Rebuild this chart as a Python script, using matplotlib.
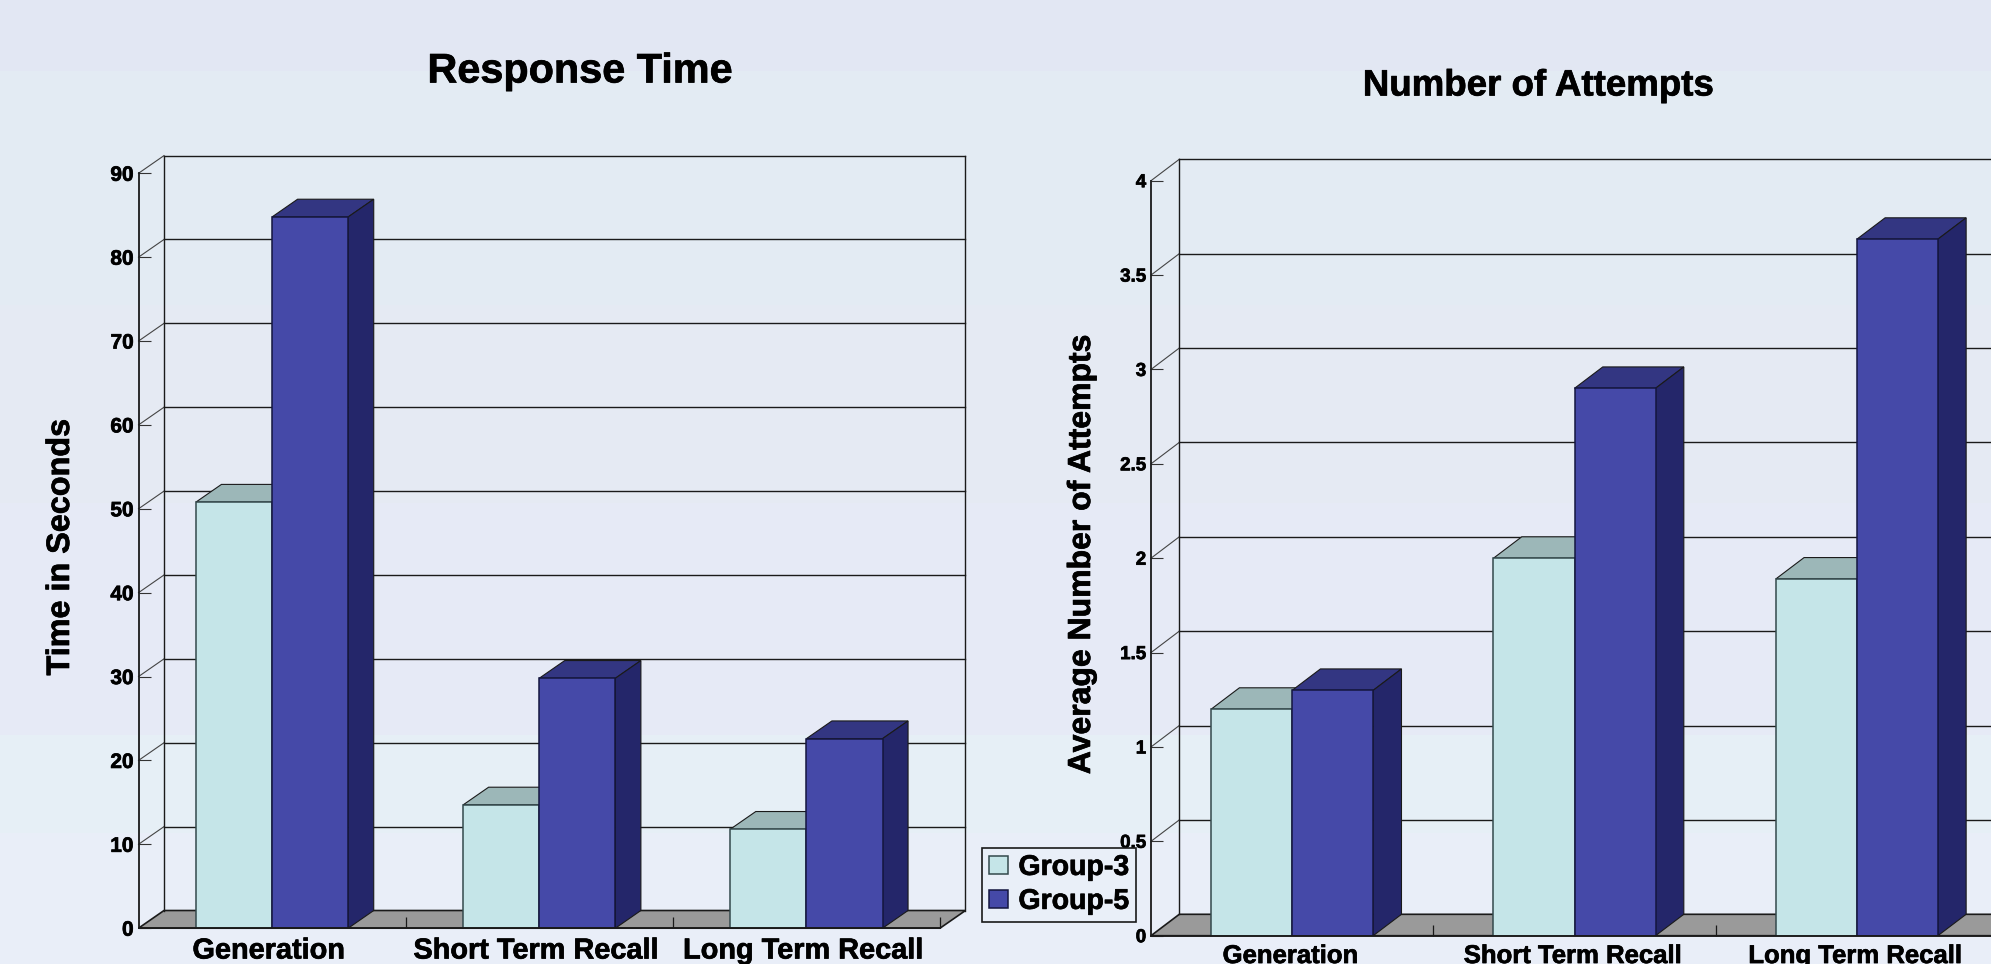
import matplotlib
matplotlib.use("Agg")
import matplotlib.pyplot as plt
import matplotlib.patheffects as pe
from matplotlib.text import Text
from matplotlib.transforms import ScaledTranslation
import numpy as np
from matplotlib.patches import Polygon

plt.rcParams['font.family'] = ['Liberation Sans', 'DejaVu Sans']
plt.rcParams['font.weight'] = 'bold'

W, H = 1991, 964

# data
categories = ["Generation", "Short Term Recall", "Long Term Recall"]
series_names = ["Group-3", "Group-5"]

time_group3 = [50.8, 14.7, 11.8]
time_group5 = [84.8, 29.8, 22.6]
time_ticks = [0, 10, 20, 30, 40, 50, 60, 70, 80, 90]
time_ticklabels = ["0", "10", "20", "30", "40", "50", "60", "70", "80", "90"]

attempts_group3 = [1.2, 2.0, 1.89]
attempts_group5 = [1.3, 2.9, 3.69]
attempts_ticks = [0, 0.5, 1, 1.5, 2, 2.5, 3, 3.5, 4]
attempts_ticklabels = ["0", "0.5", "1", "1.5", "2", "2.5", "3", "3.5", "4"]

# colours
light = "#c5e5e8"
light_top = "#9cb7b8"
dark = "#4549a8"
dark_top = "#333682"
dark_side = "#24266a"
floor = "#9a9a9a"
ink = "#1a1a1a"

# slide background is a banded gradient
band_edges = [0, 71, 305, 503, 735, 833, 964]
band_colors = [(226, 231, 243), (227, 235, 243), (229, 234, 243),
               (230, 234, 246), (230, 239, 246), (233, 238, 248)]


def px_axes(fig, x0, x1, y_top, y_bottom):
    return fig.add_axes([x0 / W, 1 - y_bottom / H, (x1 - x0) / W, (y_bottom - y_top) / H])


def draw_chart(ax, vals3, vals5, ticks, ticklabels, dx, dy, barw, tick_fs, cat_fs, cat_shift):
    ymax = ticks[-1]
    xmin, xmax = -0.5, 2.5
    ax.set_xlim(xmin, xmax)
    ax.set_ylim(0, ymax)
    ax.patch.set_visible(False)

    # back wall and floor
    ax.add_patch(Polygon([(xmin, 0), (xmax, 0), (xmax + dx, dy), (xmin + dx, dy)],
                         fc=floor, ec=ink, lw=1.2, clip_on=False, zorder=1))
    for t in ticks[1:]:
        ax.plot([xmin + dx, xmax + dx], [t + dy, t + dy], color=ink, lw=1, clip_on=False, zorder=1)
        ax.plot([xmin, xmin + dx], [t, t + dy], color="#444444", lw=0.8, clip_on=False, zorder=1)
    ax.plot([xmin + dx, xmin + dx], [dy, ymax + dy], color=ink, lw=1, clip_on=False, zorder=1)
    ax.plot([xmax + dx, xmax + dx], [dy, ymax + dy], color=ink, lw=1, clip_on=False, zorder=1)

    x = np.arange(len(categories))
    for xi, v in zip(x - barw / 2, vals3):
        l, r = xi - barw / 2, xi + barw / 2
        ax.add_patch(Polygon([(l, v), (r, v), (r + dx, v + dy), (l + dx, v + dy)],
                             fc=light_top, ec=ink, lw=0.8, clip_on=False, zorder=2))
    bars3 = ax.bar(x - barw / 2, vals3, barw, color=light, edgecolor="#33494c", lw=1.1, zorder=3,
                   label=series_names[0])
    for xi, v in zip(x + barw / 2, vals5):
        l, r = xi - barw / 2, xi + barw / 2
        ax.add_patch(Polygon([(l, v), (r, v), (r + dx, v + dy), (l + dx, v + dy)],
                             fc=dark_top, ec=ink, lw=0.8, clip_on=False, zorder=4))
        ax.add_patch(Polygon([(r, 0), (r + dx, dy), (r + dx, v + dy), (r, v)],
                             fc=dark_side, ec=ink, lw=0.8, clip_on=False, zorder=4))
    bars5 = ax.bar(x + barw / 2, vals5, barw, color=dark, edgecolor="#14163f", lw=1.1, zorder=5,
                   label=series_names[1])

    # axes
    for s in ["top", "right"]:
        ax.spines[s].set_visible(False)
    for s in ["left", "bottom"]:
        ax.spines[s].set_color(ink)
        ax.spines[s].set_linewidth(1.3)
        ax.spines[s].set_zorder(6)
    ax.set_yticks(ticks)
    ax.set_yticklabels(ticklabels, fontsize=tick_fs, fontweight='bold')
    ax.tick_params(axis='y', direction='in', length=8.5, width=0.8, pad=3.5, color="#333333")
    ax.set_xticks([0.5, 1.5, 2.5])
    ax.set_xticklabels([])
    ax.tick_params(axis='x', which='major', direction='in', length=8, width=0.9, color=ink)
    ax.set_xticks(x, minor=True)
    labels = ax.set_xticklabels(categories, minor=True, fontsize=cat_fs, fontweight='bold')
    ax.tick_params(axis='x', which='minor', length=0, pad=6)
    # the labels sit a little left of the bar groups
    for lab in labels:
        lab.set_transform(lab.get_transform() + ScaledTranslation(cat_shift / 100, 0, fig.dpi_scale_trans))
    return bars3, bars5


fig = plt.figure(figsize=(W / 100, H / 100), dpi=100)

bg = fig.add_axes([0, 0, 1, 1], zorder=-1)
rgb = np.zeros((H, 1, 3))
for i, c in enumerate(band_colors):
    rgb[band_edges[i]:band_edges[i + 1], 0, :] = np.array(c) / 255
bg.imshow(rgb, aspect='auto', extent=[0, 1, 0, 1], origin='upper', interpolation='nearest')
bg.axis('off')

ax1 = px_axes(fig, 138.5, 940, 173.3, 928.2)
b3, b5 = draw_chart(ax1, time_group3, time_group5, time_ticks, time_ticklabels,
                    25.5 / 267.2, 17.7 / 8.39, 0.285, 15, 20.8, -3.5)

ax2 = px_axes(fig, 1151, 1998, 180.7, 935.7)
draw_chart(ax2, attempts_group3, attempts_group5, attempts_ticks, attempts_ticklabels,
           28.3 / 282.5, 21.4 / 188.75, 0.287, 13.5, 18.5, -1.5)

fig.text(580 / W, 1 - 71.5 / H, "Response Time", ha='center', va='center', fontsize=29.8, fontweight='bold', color='black')
fig.text(1538 / W, 1 - 86 / H, "Number of Attempts", ha='center', va='center', fontsize=26.4, fontweight='bold', color='black')
fig.text(61 / W, 1 - 547 / H, "Time in Seconds", rotation=90, ha='center', va='center', fontsize=23.3, fontweight='bold', color='black')
fig.text(1082 / W, 1 - 554 / H, "Average Number of Attempts", rotation=90, ha='center', va='center', fontsize=23, fontweight='bold', color='black')

leg = fig.legend([b3, b5], series_names, loc='lower left',
                 bbox_to_anchor=(982 / W, 1 - 922 / H), borderaxespad=0,
                 fontsize=20.5, frameon=True, fancybox=False, framealpha=1,
                 facecolor="#e9eff8", edgecolor=ink,
                 handlelength=0.68, handleheight=0.6, handletextpad=0.35,
                 labelspacing=0.28, borderpad=0.25)
leg.get_frame().set_linewidth(1.2)

# reference type is a touch heavier than Liberation bold
for t in fig.findobj(Text):
    t.set_path_effects([pe.withStroke(linewidth=0.5, foreground='black')])

fig.savefig("out.png", dpi=100)
